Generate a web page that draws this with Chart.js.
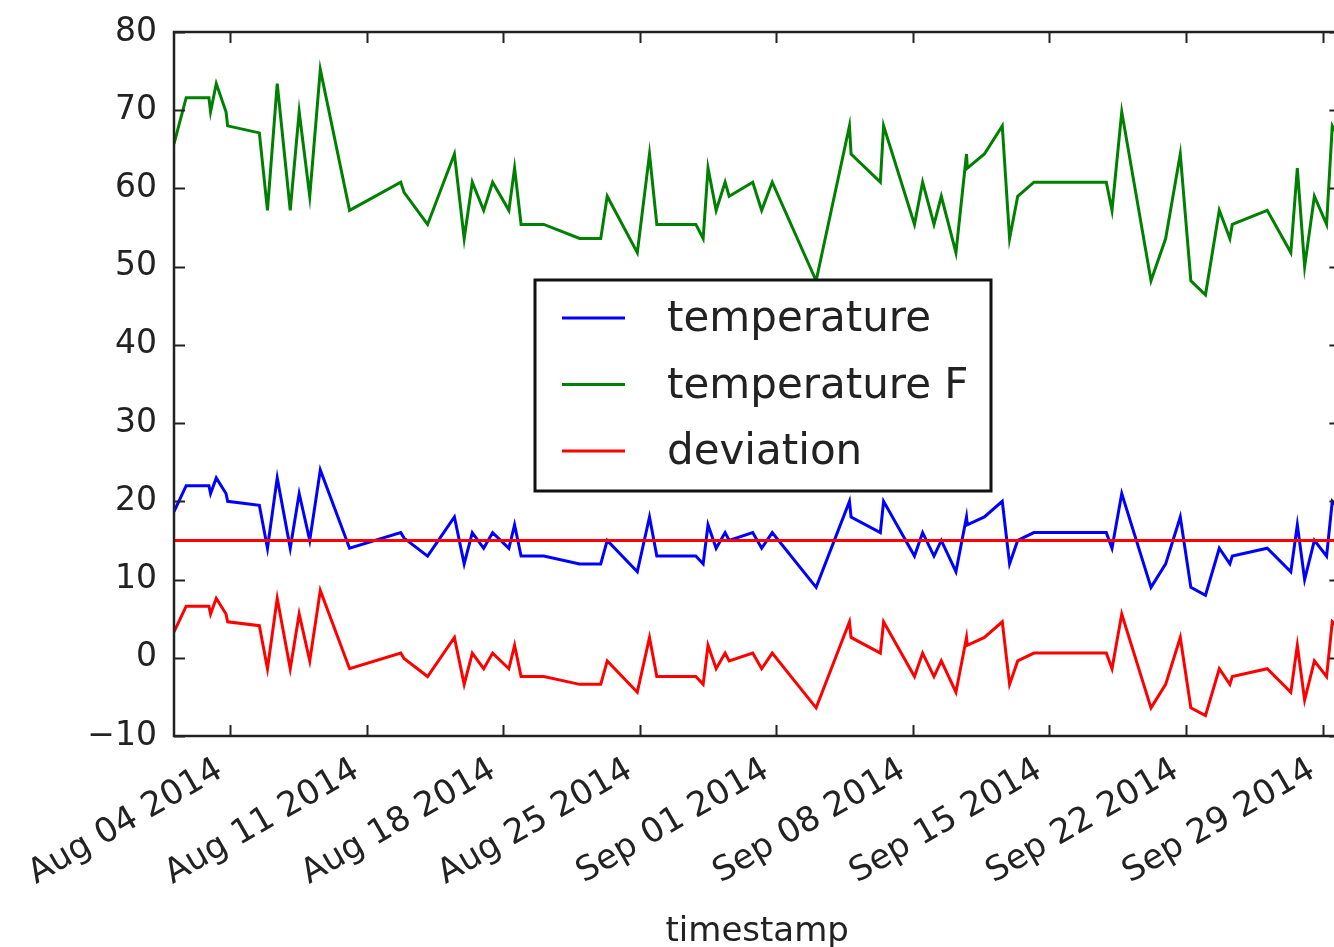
<!DOCTYPE html>
<html lang="en">
<head>
<meta charset="UTF-8">
<title>temperature</title>
<script src="https://cdn.jsdelivr.net/npm/chart.js"></script>
<style>
  html, body { margin: 0; padding: 0; background: #fff; overflow: hidden; }
  canvas { display: block; }
</style>
</head>
<body>
<canvas id="chart" width="1357" height="947"></canvas>
<script>
// readings, UTC
const timestamps = [
  '2014-08-01 03:00', '2014-08-01 18:00', '2014-08-02 22:00', '2014-08-03 00:00', '2014-08-03 07:00',
  '2014-08-03 19:00', '2014-08-03 21:00', '2014-08-05 12:00', '2014-08-05 22:00', '2014-08-06 10:00',
  '2014-08-07 02:00', '2014-08-07 13:00', '2014-08-08 02:00', '2014-08-08 15:00', '2014-08-10 03:00',
  '2014-08-12 18:00', '2014-08-12 22:00', '2014-08-14 03:00', '2014-08-15 12:00', '2014-08-16 00:00',
  '2014-08-16 10:00', '2014-08-17 00:00', '2014-08-17 11:00', '2014-08-18 07:00', '2014-08-18 14:00',
  '2014-08-18 22:00', '2014-08-20 02:00', '2014-08-21 22:00', '2014-08-23 00:00', '2014-08-23 08:00',
  '2014-08-24 21:00', '2014-08-25 12:00', '2014-08-25 21:00', '2014-08-27 21:00', '2014-08-28 06:00',
  '2014-08-28 12:00', '2014-08-28 22:00', '2014-08-29 09:00', '2014-08-29 14:00', '2014-08-30 19:00',
  '2014-08-31 06:00', '2014-08-31 19:00', '2014-09-03 01:00', '2014-09-04 18:00', '2014-09-04 20:00',
  '2014-09-06 08:00', '2014-09-06 12:00', '2014-09-08 02:00', '2014-09-08 12:00', '2014-09-09 02:00',
  '2014-09-09 11:00', '2014-09-10 05:00', '2014-09-10 18:00', '2014-09-10 19:00', '2014-09-11 16:00',
  '2014-09-12 14:00', '2014-09-12 23:00', '2014-09-13 09:00', '2014-09-14 05:00', '2014-09-17 22:00',
  '2014-09-18 05:00', '2014-09-18 17:00', '2014-09-20 05:00', '2014-09-20 23:00', '2014-09-21 17:00',
  '2014-09-22 06:00', '2014-09-23 00:00', '2014-09-23 17:00', '2014-09-24 06:00', '2014-09-24 09:00',
  '2014-09-26 04:00', '2014-09-27 09:00', '2014-09-27 17:00', '2014-09-28 02:00', '2014-09-28 14:00',
  '2014-09-29 05:00', '2014-09-29 12:00', '2014-09-29 22:00'
];

const temperature = [
  18.7, 22, 22, 21, 23, 21, 20, 19.5, 14, 23,
  14, 21, 15, 24, 14, 16, 15.3, 13, 18, 12,
  16, 14, 16, 14, 17, 13, 13, 12, 12, 15,
  11, 18, 13, 13, 12, 17, 14, 16, 15, 16,
  14, 16, 9, 20, 18, 16, 20, 13, 16, 13,
  15, 11, 18, 17, 18, 20, 12, 15, 16, 16,
  14, 21, 9, 12, 18, 9, 8, 14, 12, 13,
  14, 11, 17, 10, 15, 13, 20, 19
];

const temperatureF = [
  65.7, 71.6, 71.6, 69.8, 73.4, 69.8, 68.0, 67.1, 57.2, 73.4,
  57.2, 69.8, 59.0, 75.2, 57.2, 60.8, 59.5, 55.4, 64.4, 53.6,
  60.8, 57.2, 60.8, 57.2, 62.6, 55.4, 55.4, 53.6, 53.6, 59.0,
  51.8, 64.4, 55.4, 55.4, 53.6, 62.6, 57.2, 60.8, 59.0, 60.8,
  57.2, 60.8, 48.2, 68.0, 64.4, 60.8, 68.0, 55.4, 60.8, 55.4,
  59.0, 51.8, 64.4, 62.6, 64.4, 68.0, 53.6, 59.0, 60.8, 60.8,
  57.2, 69.8, 48.2, 53.6, 64.4, 48.2, 46.4, 57.2, 53.6, 55.4,
  57.2, 51.8, 62.6, 50.0, 59.0, 55.4, 68.0, 66.2
];

const deviation = [
  3.3, 6.6, 6.6, 5.6, 7.6, 5.6, 4.6, 4.1, -1.4, 7.6,
  -1.4, 5.6, -0.4, 8.6, -1.4, 0.6, -0.1, -2.4, 2.6, -3.4,
  0.6, -1.4, 0.6, -1.4, 1.6, -2.4, -2.4, -3.4, -3.4, -0.4,
  -4.4, 2.6, -2.4, -2.4, -3.4, 1.6, -1.4, 0.6, -0.4, 0.6,
  -1.4, 0.6, -6.4, 4.6, 2.6, 0.6, 4.6, -2.4, 0.6, -2.4,
  -0.4, -4.4, 2.6, 1.6, 2.6, 4.6, -3.4, -0.4, 0.6, 0.6,
  -1.4, 5.6, -6.4, -3.4, 2.6, -6.4, -7.4, -1.4, -3.4, -2.4,
  -1.4, -4.4, 1.6, -5.4, -0.4, -2.4, 4.6, 3.6
];

const referenceLevel = 15;

const weekTicks = [
  '2014-08-04', '2014-08-11', '2014-08-18', '2014-08-25', '2014-09-01',
  '2014-09-08', '2014-09-15', '2014-09-22', '2014-09-29'
];

const seriesLabels = ['temperature', 'temperature F', 'deviation'];
const seriesColors = ['#0000ff', '#008000', '#ff0000'];

const MONTHS = ['Jan', 'Feb', 'Mar', 'Apr', 'May', 'Jun', 'Jul', 'Aug', 'Sep', 'Oct', 'Nov', 'Dec'];
const FONT = 'DejaVu Sans';
const TEXT = '#222';

function toMs(s) {
  const [d, t] = s.split(' ');
  return Date.parse(d + 'T' + (t || '00:00') + ':00Z');
}

function fmtDate(ms) {
  const d = new Date(ms);
  return MONTHS[d.getUTCMonth()] + ' ' + String(d.getUTCDate()).padStart(2, '0') + ' ' + d.getUTCFullYear();
}

const xs = timestamps.map(toMs);
const xMin = xs[0];
const xMax = xs[xs.length - 1];

function points(values) {
  return values.map((v, i) => ({ x: xs[i], y: v }));
}

// spines all round with inward ticks, like the classic matplotlib look
const frameTicks = {
  id: 'frameTicks',
  afterDatasetsDraw(chart) {
    const { ctx, chartArea: a, scales: { x, y } } = chart;
    const len = 11;
    ctx.save();
    ctx.strokeStyle = '#222';
    ctx.lineWidth = 2;
    ctx.beginPath();
    x.ticks.forEach(t => {
      const px = Math.round(x.getPixelForValue(t.value)) + 0.5;
      ctx.moveTo(px, a.bottom); ctx.lineTo(px, a.bottom - len);
      ctx.moveTo(px, a.top); ctx.lineTo(px, a.top + len);
    });
    y.ticks.forEach(t => {
      const py = Math.round(y.getPixelForValue(t.value)) + 0.5;
      ctx.moveTo(a.left, py); ctx.lineTo(a.left + len, py);
      ctx.moveTo(a.right, py); ctx.lineTo(a.right - len, py);
    });
    ctx.stroke();
    ctx.lineWidth = 2.5;
    ctx.strokeRect(a.left, a.top, a.right - a.left, a.bottom - a.top);
    ctx.restore();
  }
};

// boxed legend floating in the middle of the plot
const boxLegend = {
  id: 'boxLegend',
  afterDraw(chart) {
    const { ctx } = chart;
    const box = { left: 535, top: 280, width: 456, height: 211 };
    ctx.save();
    ctx.fillStyle = '#fff';
    ctx.fillRect(box.left, box.top, box.width, box.height);
    ctx.strokeStyle = '#111';
    ctx.lineWidth = 3;
    ctx.strokeRect(box.left, box.top, box.width, box.height);
    ctx.font = '42px "' + FONT + '"';
    ctx.textBaseline = 'alphabetic';
    seriesLabels.forEach((label, i) => {
      const ly = box.top + 38 + i * 66.5;
      ctx.strokeStyle = seriesColors[i];
      ctx.lineWidth = 3;
      ctx.beginPath();
      ctx.moveTo(562, ly);
      ctx.lineTo(625, ly);
      ctx.stroke();
      ctx.fillStyle = TEXT;
      ctx.fillText(label, 667, ly + 13);
    });
    ctx.restore();
  }
};

const lineStyle = { borderWidth: 3, pointRadius: 0, tension: 0, fill: false };

new Chart(document.getElementById('chart'), {
  type: 'line',
  data: {
    datasets: [
      Object.assign({ label: 'reference', data: [{ x: xMin, y: referenceLevel }, { x: xMax, y: referenceLevel }],
        borderColor: seriesColors[2], order: 0 }, lineStyle),
      Object.assign({ label: seriesLabels[2], data: points(deviation), borderColor: seriesColors[2], order: 1 }, lineStyle),
      Object.assign({ label: seriesLabels[1], data: points(temperatureF), borderColor: seriesColors[1], order: 2 }, lineStyle),
      Object.assign({ label: seriesLabels[0], data: points(temperature), borderColor: seriesColors[0], order: 3 }, lineStyle)
    ]
  },
  options: {
    responsive: false,
    animation: false,
    events: [],
    layout: { padding: { left: 0, top: 32, right: 5, bottom: 0 } },
    plugins: {
      legend: { display: false },
      tooltip: { enabled: false }
    },
    scales: {
      x: {
        type: 'linear',
        min: xMin,
        max: xMax,
        afterBuildTicks: s => { s.ticks = weekTicks.map(d => ({ value: toMs(d) })); },
        afterFit: s => { s.height = 211; },
        grid: { display: false, drawTicks: false },
        border: { display: false },
        ticks: {
          autoSkip: false,
          minRotation: 30,
          maxRotation: 30,
          padding: 14,
          labelOffset: -10,
          color: TEXT,
          font: { family: FONT, size: 34 },
          callback: v => fmtDate(v)
        },
        title: {
          display: true,
          text: 'timestamp',
          color: TEXT,
          font: { family: FONT, size: 34 },
          padding: { top: 0, bottom: -6 }
        }
      },
      y: {
        min: -10,
        max: 80,
        afterFit: s => { s.width = 174; s.paddingTop = 0; s.paddingBottom = 0; },
        grid: { display: false, drawTicks: false },
        border: { display: false },
        ticks: {
          stepSize: 10,
          padding: 17,
          color: TEXT,
          font: { family: FONT, size: 33 },
          callback: v => (v < 0 ? '\u2212' + Math.abs(v) : String(v))
        }
      }
    }
  },
  plugins: [frameTicks, boxLegend]
});
</script>
</body>
</html>
